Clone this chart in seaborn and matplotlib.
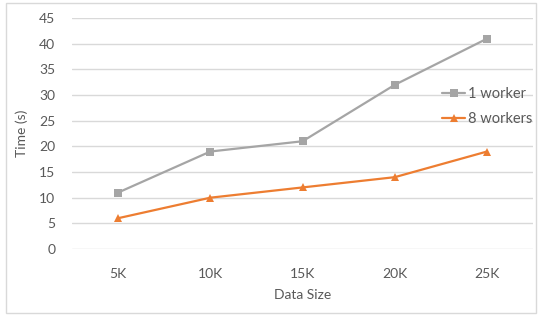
import pandas as pd
import matplotlib.pyplot as plt
import seaborn as sns
from matplotlib.patches import Rectangle

# chart values
sizes = ['5K', '10K', '15K', '20K', '25K']
one_worker = [11, 19, 21, 32, 41]
eight_workers = [6, 10, 12, 14, 19]

df = pd.DataFrame({
    'Data Size': sizes * 2,
    'Time (s)': one_worker + eight_workers,
    'series': ['1 worker'] * 5 + ['8 workers'] * 5,
})

sns.set_style('white')
plt.rcParams['font.family'] = ['Lato', 'DejaVu Sans']
text_color = '#595959'

fig = plt.figure(figsize=(5.4, 3.18), dpi=100)
ax = fig.add_axes([0.1333, 0.217, 0.854, 0.726])

sns.lineplot(data=df, x='Data Size', y='Time (s)', hue='series', style='series',
             palette={'1 worker': '#A5A5A5', '8 workers': '#ED7D31'},
             markers={'1 worker': 's', '8 workers': '^'}, dashes=False,
             linewidth=1.6, markersize=5.5, markeredgewidth=0, ax=ax, clip_on=False,
             zorder=3)

ax.set_xlim(-0.5, 4.5)
ax.set_ylim(0, 45)
ax.set_yticks(range(0, 50, 5))
ax.grid(axis='y', color='#D9D9D9', linewidth=1)
ax.grid(axis='x', visible=False)
for s in ax.spines.values():
    s.set_visible(False)
ax.tick_params(axis='both', length=0, labelsize=10, colors=text_color)
ax.tick_params(axis='y', pad=12)
ax.tick_params(axis='x', pad=14)
ax.set_xlabel('Data Size', fontsize=10, color=text_color, labelpad=6)
ax.set_ylabel('Time (s)', fontsize=10, color=text_color, labelpad=8)

leg = ax.legend(loc='upper left', bbox_to_anchor=(0.79, 0.725), frameon=False,
                fontsize=10.5, handlelength=1.6, handletextpad=0.2, labelspacing=0.75,
                borderaxespad=0)
for t in leg.get_texts():
    t.set_color(text_color)

fig.patches.append(Rectangle((0.012, 0.015), 0.98, 0.975, transform=fig.transFigure,
                             fill=False, edgecolor='#D9D9D9', linewidth=1))

fig.savefig('out.png', dpi=100)
